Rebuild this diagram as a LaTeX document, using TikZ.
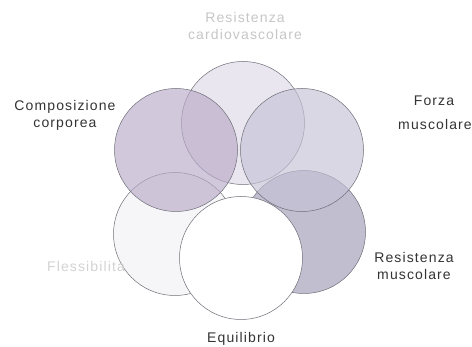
\documentclass[tikz,border=0pt]{standalone}
\usepackage{fontspec}
\setmainfont[LetterSpace=8]{Liberation Sans}
\usetikzlibrary{positioning}

\definecolor{cardiofill}{RGB}{234,230,240}
\definecolor{compfill}{RGB}{186,170,200}
\definecolor{forzafill}{RGB}{196,194,214}
\definecolor{resfill}{RGB}{172,168,192}
\definecolor{flexfill}{RGB}{246,246,248}
\definecolor{rimgray}{RGB}{110,110,120}

\begin{document}
\begin{tikzpicture}[
		x=1pt, y=-1pt, font=\fontsize{14}{17}\selectfont,
		% Define styles
		area/.style={circle, draw=rimgray, line width=0.5pt, minimum size=123pt, inner sep=0pt},
		label/.style={align=center, text=black!80},
		faint/.style={label, text=gray!45}
		]
		\useasboundingbox (0,0) rectangle (472,347);
		
		% 1. Back row of circles
		\node[area, fill=cardiofill] (cardio) at (243,123) {};
		\node[area, fill=flexfill] (flessib) at (175,234) {};
		\node[area, fill=resfill, fill opacity=0.75] (resmusc) at (304,232) {};
		
		% 2. Upper circles (see-through)
		\node[area, fill=compfill, fill opacity=0.65] (composizione) at (176,150) {};
		\node[area, fill=forzafill, fill opacity=0.65] (forza) at (302,150) {};
		
		% 3. Front circle
		\node[area, fill=white] (equil) at (241,258) {};
		
		% 4. Labels
		\node[faint] (cardiolbl) at (245,26) {Resistenza\\cardiovascolare};
		\node[label] (complbl) at (65,115) {Composizione\\corporea};
		\node[label] (forzalbl) at (434,113) {Forza\\[7pt]\hspace*{2pt}muscolare};
		\node[label] (reslbl) at (414,266) {Resistenza\\muscolare};
		\node[faint, text=gray!35] (flexlbl) at (86,266) {Flessibilità};
		\node[label, below=9pt of equil] (equillbl) {Equilibrio};
		
	\end{tikzpicture}
\end{document}
